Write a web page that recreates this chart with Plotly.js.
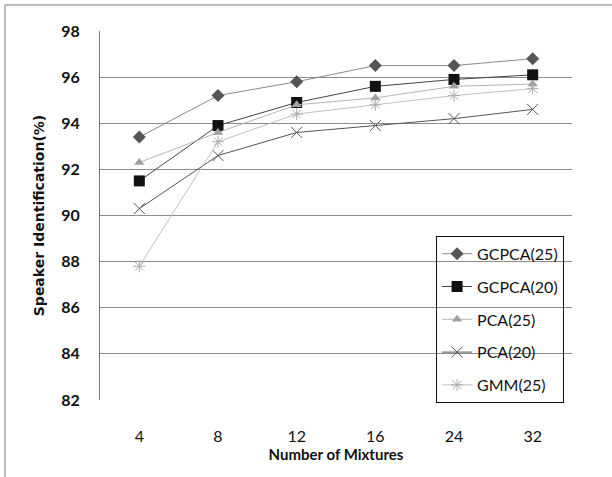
<!DOCTYPE html>
<html><head><meta charset="utf-8">
<script src="https://cdn.plot.ly/plotly-3.0.1.min.js"></script>
<style>html,body{margin:0;padding:0;background:#fff}#chart{width:612px;height:477px}</style>
</head><body><div id="chart"></div>
<script>
const mixtures = ['4','8','12','16','24','32'];
const gcpca25 = [93.4,95.2,95.8,96.5,96.5,96.8];
const gcpca20 = [91.5,93.9,94.9,95.6,95.9,96.1];
const pca25 = [92.3,93.6,94.8,95.1,95.6,95.7];
const pca20 = [90.3,92.6,93.6,93.9,94.2,94.6];
const gmm25 = [87.8,93.2,94.4,94.8,95.2,95.5];
const seriesNames = ['GCPCA(25)','GCPCA(20)','PCA(25)','PCA(20)','GMM(25)'];

const styles = [
  {line:'#8a8a8a', marker:{symbol:'diamond', size:10, color:'#555'}},
  {line:'#444', marker:{symbol:'square', size:11, color:'#111'}},
  {line:'#b5b5b5', marker:{symbol:'triangle-up', size:9, color:'#a0a0a0'}},
  {line:'#555', marker:{symbol:'x-thin-open', size:11, color:'#555', line:{width:1, color:'#555'}}},
  {line:'#c0c0c0', marker:{symbol:'asterisk-open', size:10, color:'#aaa', line:{width:1, color:'#aaa'}}}
];
const data = [gcpca25, gcpca20, pca25, pca20, gmm25].map((ys, i) => ({
  type:'scatter', mode:'lines+markers', name: seriesNames[i], x: mixtures, y: ys,
  legendgroup: 'g'+i,
  line:{color: styles[i].line, width:1},
  marker: styles[i].marker
}));

const layout = {
  width:612, height:477,
  margin:{l:100, r:40, t:31, b:77},
  paper_bgcolor:'#fff', plot_bgcolor:'#fff',
  font:{family:'Lato, sans-serif', color:'#111'},
  xaxis:{
    type:'category', range:[-0.5,5.5], showgrid:false, zeroline:false,
    ticks:'outside', ticklen:22, tickcolor:'rgba(0,0,0,0)',
    tickfont:{size:16, family:'Lato, sans-serif', color:'#111'},
    title:{text:'Number of Mixtures', font:{size:15, family:'Lato, sans-serif', weight:'bold', color:'#111'}, standoff:2}
  },
  yaxis:{
    range:[82,98], dtick:2, tick0:82, showgrid:true, gridcolor:'#8c8c8c', gridwidth:1,
    zeroline:false, showline:true, linecolor:'#777', linewidth:1,
    ticks:'outside', ticklen:16, tickcolor:'rgba(0,0,0,0)',
    tickfont:{size:16, family:'Lato, sans-serif', weight:'bold', color:'#111'},
    title:{text:'Speaker Identification(%)', font:{size:14, family:'DejaVu Sans, sans-serif', weight:'bold', color:'#111'}, standoff:13}
  },
  legend:{
    x:0.712, y:0.445, xanchor:'left', yanchor:'top',
    bgcolor:'rgba(0,0,0,0)', bordercolor:'#111', borderwidth:1,
    font:{size:16, family:'Lato, sans-serif', color:'#111'},
    traceorder:'grouped', tracegroupgap:9
  },
  shapes:[
    {type:'line', xref:'paper', yref:'paper', x0:-0.2013, x1:1.1, y0:1.0705, y1:1.0705, line:{color:'#777', width:1}},
    {type:'line', xref:'paper', yref:'paper', x0:-0.2013, x1:-0.2013, y0:-0.25, y1:1.0705, line:{color:'#777', width:1}}
  ],
  showlegend:true
};
Plotly.newPlot('chart', data, layout, {displayModeBar:false, staticPlot:true});
</script></body></html>
